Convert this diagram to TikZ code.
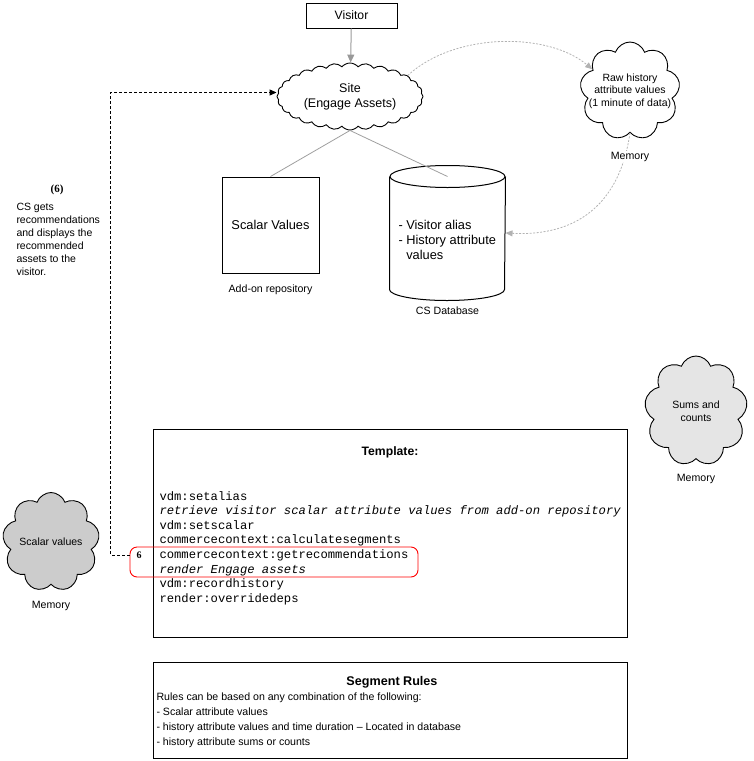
\documentclass[tikz,border=0pt]{standalone}
\usepackage{fontspec}
\setmainfont{Liberation Sans}
\setmonofont{Liberation Mono}
\newfontfamily\numfont{Liberation Serif}
\usetikzlibrary{positioning, arrows.meta, shapes.symbols}
\newcommand{\pxfont}[2]{\fontsize{#1}{#2}\selectfont}

\begin{document}
\begin{tikzpicture}[
    x=1pt, y=-1pt, line width=1pt,
    every node/.style={inner sep=0pt, font=\pxfont{10.6}{12.5}},
    box/.style={draw, line width=1pt, align=center},
    puff/.style={cloud, draw, line width=0.9pt, cloud puffs=9, cloud puff arc=140},
    caption/.style={font=\pxfont{10.6}{12.5}, fill=white, inner sep=0.5pt},
    code/.style={font=\ttfamily\pxfont{12.2}{14.6}, align=left, anchor=north west},
    head/.style={font=\bfseries\pxfont{12.2}{14}},
    link/.style={draw=gray!75, line width=0.8pt},
    flow/.style={-{Triangle[length=7pt, width=6pt]}, draw=gray!60, dash pattern=on 2pt off 1.5pt, line width=0.8pt},
    recall/.style={-{Triangle[length=7pt, width=6pt]}, dash pattern=on 3pt off 2pt, line width=1pt},
]
\useasboundingbox (0,0) rectangle (753,761);

% ── Visitor and site ─────────────────────────────────────────────────────────
\node[box, minimum width=91pt, minimum height=25pt, font=\pxfont{12.2}{14}] (visitor) at (351.5,15.5) {Visitor};
\node[puff, cloud puffs=28, cloud puff arc=100, minimum width=146pt, minimum height=67pt, fill=white,
      label={[align=center, font=\pxfont{12.5}{15}]center:Site\\(Engage Assets)}] (site) at (350,96.5) {};

% ── Memory clouds ────────────────────────────────────────────────────────────
\node[puff, minimum width=100pt, minimum height=98pt, fill=white,
      label={[align=center, font=\pxfont{10.5}{12.5}]center:Raw history\\attribute values\\(1 minute of data)}] (raw) at (630,91) {};
\node[puff, minimum width=103pt, minimum height=110pt, fill=gray!20,
      label={[align=center, font=\pxfont{10.5}{13}]center:Sums and\\counts}] (sums) at (696,411) {};
\node[puff, minimum width=97pt, minimum height=99pt, fill=gray!40,
      label={[font=\pxfont{10.5}{12.5}]center:Scalar values}] (scalars) at (51,542) {};

% ── Repositories ─────────────────────────────────────────────────────────────
\node[box, minimum width=97pt, minimum height=96pt, font=\pxfont{12.8}{15}] (scalarbox) at (270.5,225) {Scalar Values};
\node[minimum width=115pt, minimum height=134pt] (db) at (447.5,233) {};
\draw ([yshift=-11pt]db.north west) -- ([yshift=11pt]db.south west)
      arc[start angle=180, end angle=360, x radius=57.5pt, y radius=11pt] -- ([yshift=-11pt]db.north east);
\draw ([yshift=-11pt]db.north) ellipse [x radius=57.5pt, y radius=11pt];
\coordinate (dbtop) at ([yshift=-11pt]db.north);
\node[align=left, anchor=west, font=\pxfont{12.8}{15}] (dbtext) at (398,240)
      {- Visitor alias\\- History attribute\\\phantom{- }values};

% ── Step note ────────────────────────────────────────────────────────────────
\node[font=\numfont\bfseries\pxfont{11}{13}] (stepnum) at (57,190) {(6)};
\node[align=left, anchor=north west, font=\pxfont{10.5}{13}] (stepnote) at (16,200.6)
      {\strut CS gets\\recommendations\\and displays the\\recommended\\assets to the\\visitor.};

% ── Template ─────────────────────────────────────────────────────────────────
\node[box, minimum width=474pt, minimum height=208pt] (template) at (390,533) {};
\node[head] (templatehead) at (390,452.5) {Template:};
\node[code] (calls) at (159,489.3) {\strut vdm:setalias\\
    \textit{retrieve visitor scalar attribute values from add-on repository}\\
    vdm:setscalar\\
    commercecontext:calculatesegments\\
    commercecontext:getrecommendations\\
    \textit{render Engage assets}\\
    vdm:recordhistory\\
    render:overridedeps};
\node[draw=red, line width=0.9pt, rounded corners=7pt, minimum width=288pt, minimum height=30pt] (focus) at (274,562) {};
\node[font=\numfont\bfseries\pxfont{10}{12}] (six) at (139,555) {6};

% ── Segment rules ────────────────────────────────────────────────────────────
\node[box, minimum width=474pt, minimum height=96pt] (rules) at (390,710.5) {};
\node[head, font=\bfseries\pxfont{12.6}{14}] (ruleshead) at (392,682) {Segment Rules};
\node[align=left, anchor=north west, font=\pxfont{10.6}{14.9}] (rulestext) at (156,690) {\strut Rules can be based on any combination of the following:\\
    - Scalar attribute values\\
    - history attribute values and time duration -- Located in database\\
    - history attribute sums or counts};

% ── Arrows ───────────────────────────────────────────────────────────────────
\draw[-{Triangle[length=8pt, width=7pt]}, draw=gray!80] (visitor) -- (site);
\draw[link] (site.south) -- (scalarbox.north);
\draw[link] (site.south) -- (dbtop);
\draw[flow] (site.20) .. controls (455,32) and (548,32) .. (raw.150);
\draw[flow] (raw.south) .. controls (618,215) and (565,236) .. (db.east);
\draw[recall] (six.west -| focus.west) -- ++(-19,0) |- ([yshift=4pt]site.west);

% ── Captions ─────────────────────────────────────────────────────────────────
\node[caption, below=10pt of scalarbox] (addon) {Add-on repository};
\node[caption, below=5pt of db] (dbname) {CS Database};
\node[caption, below=18pt of raw] (rawmem) {Memory};
\node[caption, below=14pt of sums] (summem) {Memory};
\node[caption, below=15.5pt of scalars] (scalarmem) {Memory};

\end{tikzpicture}
\end{document}
